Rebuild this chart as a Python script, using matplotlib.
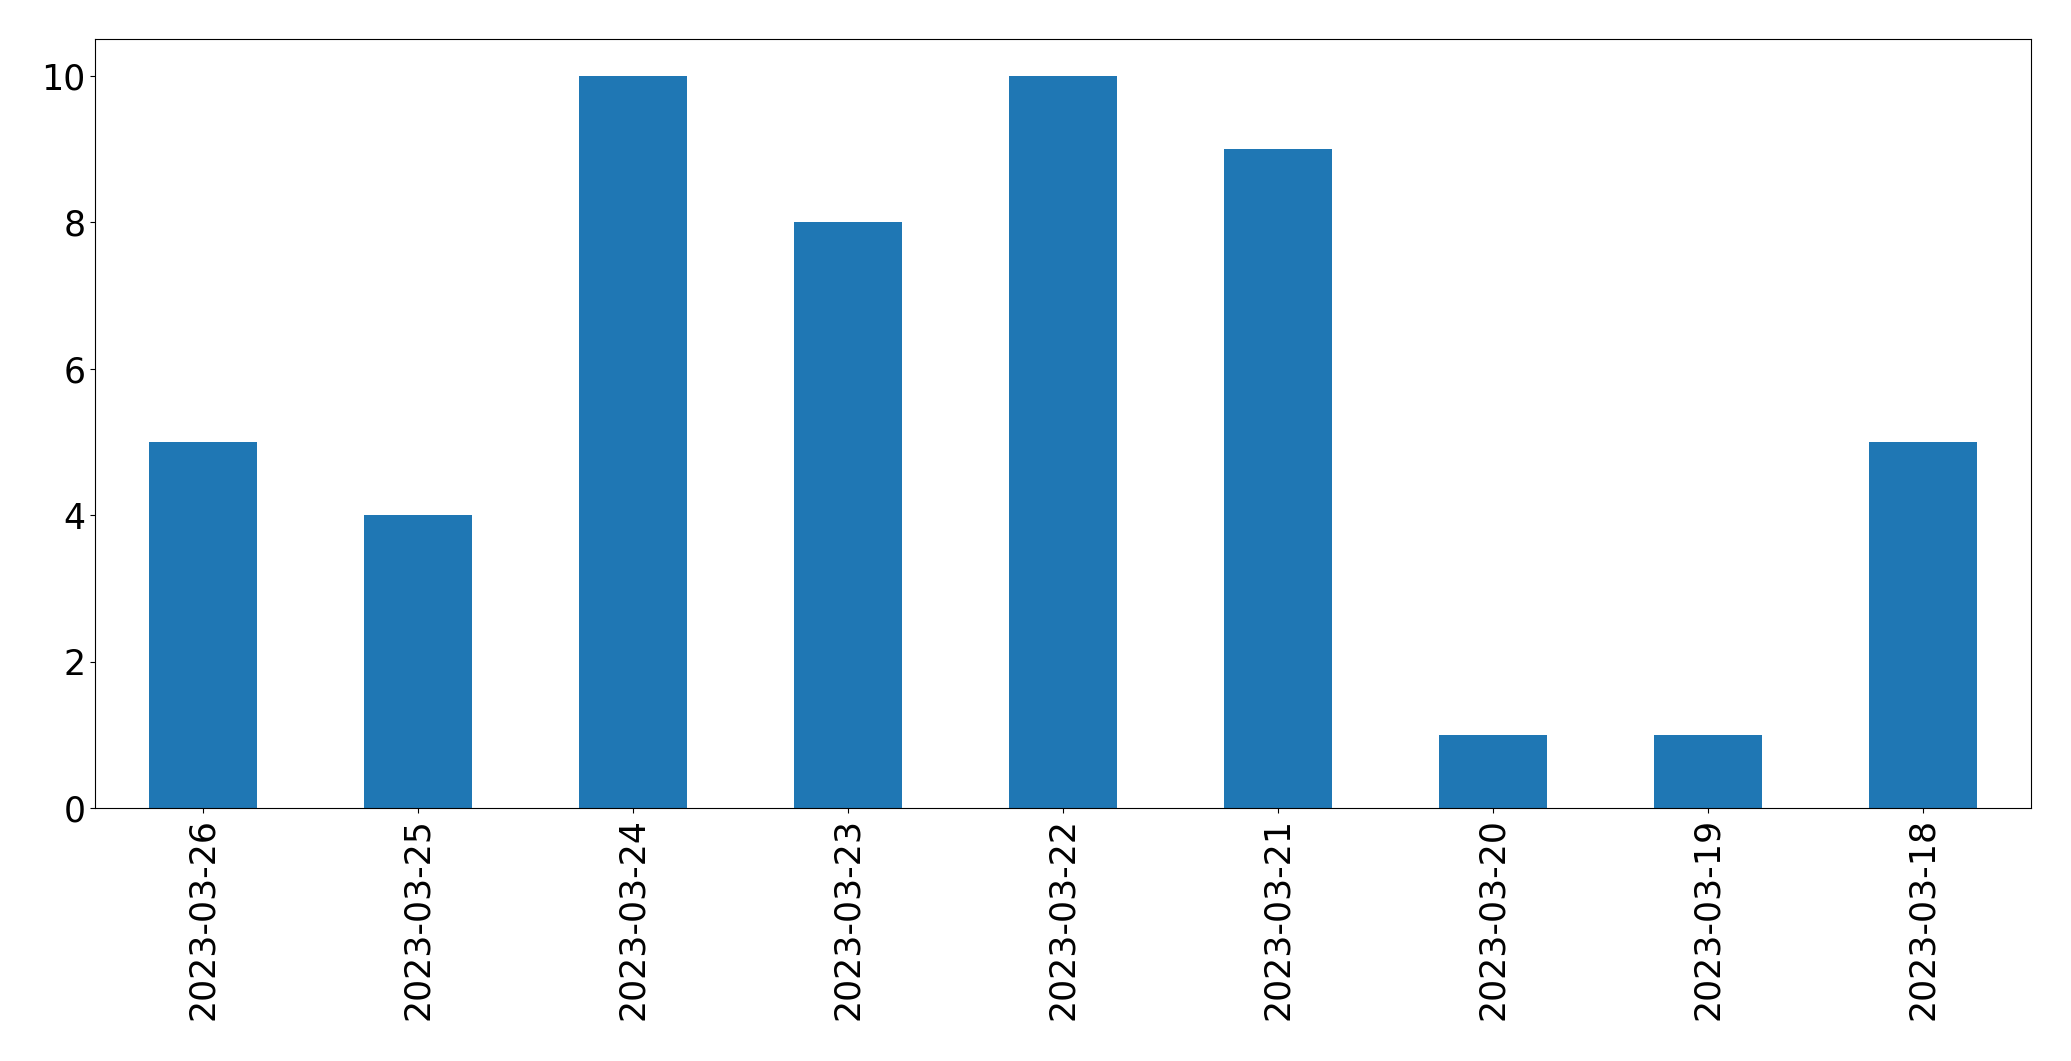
import numpy as np
import pandas as pd
import matplotlib
matplotlib.use("Agg")
import matplotlib.pyplot as plt

plt.rcParams.update({'font.size': 25})

dates = ["2023-03-26", "2023-03-25", "2023-03-24", "2023-03-23", "2023-03-22",
         "2023-03-21", "2023-03-20", "2023-03-19", "2023-03-18"]
counts = [5, 4, 10, 8, 10, 9, 1, 1, 5]

s = pd.Series(counts, index=dates)

fig, ax = plt.subplots(figsize=(20.71, 10.61), dpi=100)
s.plot(kind="bar", ax=ax, color="#1f77b4")
fig.subplots_adjust(left=0.046, right=0.9805, top=0.963, bottom=0.238)

fig.savefig("out.png", dpi=100)
